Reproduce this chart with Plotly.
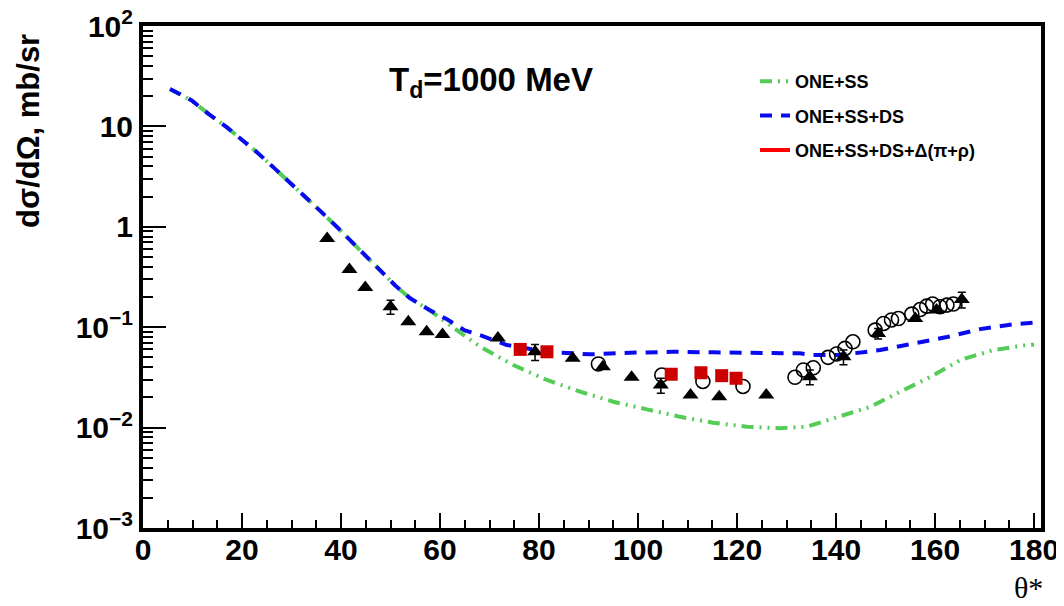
import plotly.graph_objects as go

# ---- theory curves ----
ss_theta = [5.45, 9.84, 13.1, 16.9, 19.9, 23.0, 26.3, 29.4, 32.7, 35.8, 38.8, 41.8, 44.8, 47.9,
            50.9, 53.9, 57.6, 62.0, 66.1, 68.1, 74.8, 81.6, 88.3, 95.0, 101.8, 108.5, 115.2,
            122.0, 128.7, 134.1, 139.8, 146.9, 152.9, 159.0, 165.1, 171.7, 178.6, 180.0]
ss_val = [23.6, 18.1, 13.5, 9.82, 7.41, 5.54, 3.93, 2.85, 2.01, 1.44, 1.04, 0.735, 0.521, 0.37,
          0.262, 0.195, 0.151, 0.105, 0.0745, 0.0638, 0.042, 0.0298, 0.0228, 0.0181, 0.0152, 0.0128,
          0.0112, 0.0102, 0.00986, 0.0102, 0.0125, 0.0161, 0.0227, 0.0319, 0.0471, 0.0591, 0.0664, 0.067]

ds_theta = [5.45, 9.84, 13.1, 16.9, 19.9, 23.0, 26.3, 29.4, 32.7, 35.8, 38.8, 41.8, 44.8, 47.9,
            50.9, 53.9, 57.6, 61.4, 65.0, 68.1, 73.5, 81.6, 90.3, 98.4, 107.1, 115.2, 124.6,
            132.7, 135.4, 140.8, 148.9, 155.6, 162.4, 169.1, 175.8, 180.0]
ds_val = [23.6, 18.1, 13.5, 9.82, 7.41, 5.54, 3.93, 2.85, 2.01, 1.44, 1.04, 0.735, 0.521, 0.37,
          0.262, 0.195, 0.151, 0.12, 0.093, 0.0833, 0.0664, 0.0569, 0.0537, 0.0557, 0.0569, 0.0562,
          0.0557, 0.0549, 0.0528, 0.0528, 0.0592, 0.068, 0.0798, 0.0957, 0.107, 0.111]

# legend-only curve (not drawn in the reference)
delta_theta = [None]
delta_val = [None]

# ---- experimental data ----
tri_theta = [37.2, 41.7, 44.9, 50.0, 53.6, 57.3, 60.5, 71.7, 79.2, 86.8, 92.9, 98.7, 104.6,
             110.6, 116.4, 125.9, 134.7, 141.5, 148.5, 156.0, 160.3, 165.4]
tri_val = [0.764, 0.376, 0.249, 0.160, 0.113, 0.090, 0.0847, 0.078, 0.0569, 0.049, 0.0403, 0.0317,
           0.0265, 0.0211, 0.0203, 0.0211, 0.0321, 0.0508, 0.0867, 0.122, 0.148, 0.189]
tri_relerr = [0, 0, 0, 0.16, 0, 0, 0, 0, 0.18, 0, 0, 0, 0.17,
              0, 0, 0, 0.17, 0.17, 0.12, 0, 0, 0.18]

circ_theta = [92.0, 104.8, 113.1, 121.2, 131.7, 133.4, 135.4, 138.4, 140.1, 141.8, 143.4, 147.9,
              149.6, 151.2, 152.6, 155.3, 157.0, 158.3, 159.5, 161.0, 162.4, 163.7]
circ_val = [0.043, 0.0334, 0.0288, 0.0257, 0.0317, 0.0375, 0.0394, 0.0501, 0.0541, 0.0615, 0.0716,
            0.0935, 0.109, 0.118, 0.122, 0.135, 0.150, 0.162, 0.170, 0.160, 0.166, 0.170]

sq_theta = [76.2, 81.6, 106.7, 112.7, 116.9, 119.8]
sq_val = [0.0601, 0.0569, 0.0340, 0.0352, 0.0329, 0.0310]

y_tickvals = [1e-3, 1e-2, 1e-1, 1, 10, 100]
y_ticktext = ["10<sup>\u22123</sup>", "10<sup>\u22122</sup>", "10<sup>\u22121</sup>", "1", "10", "10<sup>2</sup>"]

FONT = "Liberation Sans"
OFF = 8                      # page body margin offset
W, H = 1064 - OFF, 606 - OFF
L, R, T, B = 143 - OFF, 1064 - 1041, 26 - OFF, 606 - 528
PW, PH = W - L - R, H - T - B


def px(xp):   # page x -> paper x
    return (xp - OFF - L) / PW


def py(yp):   # page y -> paper y
    return (H - B - (yp - OFF)) / PH


fig = go.Figure()

fig.add_trace(go.Scatter(x=ss_theta, y=ss_val, mode="lines", name="ONE+SS",
                         line=dict(color="#55cc55", width=4, dash="12px,6px,2px,6px,2px,6px"),
                         legendgroup="a"))
fig.add_trace(go.Scatter(x=ds_theta, y=ds_val, mode="lines", name="ONE+SS+DS",
                         line=dict(color="#0a0af0", width=4, dash="12px,9px"),
                         legendgroup="b"))
fig.add_trace(go.Scatter(x=delta_theta, y=delta_val, mode="lines", name="ONE+SS+DS+\u0394(\u03c0+\u03c1)",
                         line=dict(color="#ff0000", width=4), legendgroup="c"))

fig.add_trace(go.Scatter(x=circ_theta, y=circ_val, mode="markers", showlegend=False,
                         marker=dict(symbol="circle-open", size=14, color="black",
                                     line=dict(width=1.6, color="black"))))
fig.add_trace(go.Scatter(x=tri_theta, y=tri_val, mode="markers", showlegend=False,
                         marker=dict(symbol="triangle-up", size=14, color="black"),
                         error_y=dict(type="data", array=[v * e for v, e in zip(tri_val, tri_relerr)],
                                      visible=True, color="black", thickness=1.5, width=4)))
fig.add_trace(go.Scatter(x=sq_theta, y=sq_val, mode="markers", showlegend=False,
                         marker=dict(symbol="square", size=13, color="#cc0000")))

fig.update_layout(
    template="none",
    width=W, height=H,
    paper_bgcolor="white", plot_bgcolor="white",
    margin=dict(l=L, r=R, t=T, b=B, autoexpand=False),
    font=dict(family=FONT, color="black"),
    legend=dict(x=px(755), y=py(63), xanchor="left", yanchor="top",
                font=dict(family=FONT, size=18, weight="bold", color="black"),
                bgcolor="rgba(0,0,0,0)", tracegroupgap=8, traceorder="grouped"),
    xaxis=dict(range=[0, 181.4], showgrid=False, zeroline=False, automargin=False,
               showline=True, linewidth=4, linecolor="black", mirror=True,
               tickmode="linear", tick0=0, dtick=20, ticks="inside", ticklen=15, tickwidth=2,
               tickcolor="black", ticklabelstandoff=-8, ticklabeloverflow="allow",
               tickfont=dict(family=FONT, size=30, weight="bold", color="black"),
               minor=dict(dtick=5, ticks="inside", ticklen=8, tickwidth=2, tickcolor="black", showgrid=False)),
    yaxis=dict(type="log", range=[-3, 2], showgrid=False, zeroline=False, automargin=False,
               showline=True, linewidth=4, linecolor="black", mirror=True,
               tickmode="array", tickvals=y_tickvals, ticktext=y_ticktext,
               ticks="inside", ticklen=23, tickwidth=2, tickcolor="black", ticklabeloverflow="allow",
               tickfont=dict(family=FONT, size=30, weight="bold", color="black"),
               minor=dict(dtick="D1", ticks="inside", ticklen=10, tickwidth=2, tickcolor="black", showgrid=False)),
)

fig.add_annotation(text="d\u03c3/d\u03a9, mb/sr", textangle=-90, showarrow=False,
                   xref="paper", yref="paper", x=px(28), y=py(32),
                   xanchor="center", yanchor="top",
                   font=dict(family=FONT, size=31, weight="bold", color="black"))
fig.add_annotation(text="T<sub>d</sub>=1000 MeV", showarrow=False,
                   xref="paper", yref="paper", x=px(387), y=py(82),
                   xanchor="left", yanchor="middle",
                   font=dict(family=FONT, size=33, weight="bold", color="black"))
fig.add_annotation(text="\u03b8*", showarrow=False,
                   xref="paper", yref="paper", x=px(1045), y=py(587),
                   xanchor="right", yanchor="middle",
                   font=dict(family="Liberation Serif", size=30, color="black"))

fig.write_html("out.html")
